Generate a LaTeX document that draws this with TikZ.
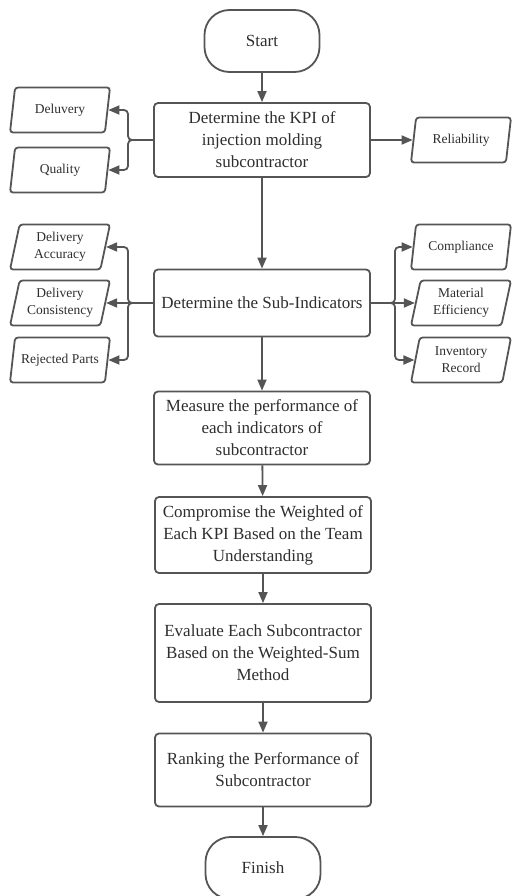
\documentclass[tikz,border=0pt]{standalone}
\usepackage{fontspec}
\setmainfont{Liberation Serif}
\usetikzlibrary{shapes.geometric,arrows.meta}
\definecolor{linegray}{HTML}{555555}
\definecolor{textgray}{HTML}{2E2E2E}
\begin{document}
\begin{tikzpicture}[x=1pt,y=-1pt,
	line width=1.8pt,
	every node/.style={text=textgray},
	box/.style={draw=linegray,rounded corners=4pt,minimum width=216pt,align=center,
		font=\fontsize{17}{22}\selectfont},
	term/.style={draw=linegray,rounded corners=25pt,minimum width=115pt,minimum height=62pt,
		font=\fontsize{17}{22}\selectfont},
	para/.style={draw=linegray,trapezium,trapezium left angle=75,trapezium right angle=105,
		trapezium stretches body,rounded corners=3pt,minimum width=100pt,minimum height=45pt,
		align=center,inner xsep=1pt,font=\fontsize{13.5}{17}\selectfont},
	arr/.style={draw=linegray,-{Triangle[length=11pt,width=9pt]}},
	split/.style={arr,rounded corners=4pt}]
	\useasboundingbox (0,0) rectangle (511,896);
	% main column
	\node[term] (start) at (262,41) {Start};
	\node[box,minimum height=74pt] (kpi) at (262,140) {Determine the KPI of\\injection molding\\subcontractor};
	\node[box,minimum height=67pt] (sub) at (262,303) {Determine the Sub-Indicators};
	\node[box,minimum height=73pt] (meas) at (262,428) {Measure the performance of\\each indicators of\\subcontractor};
	\node[box,minimum height=76pt] (compr) at (263,535) {Compromise the Weighted of\\Each KPI Based on the Team\\Understanding};
	\node[box,minimum height=98pt] (eval) at (263,653) {Evaluate Each Subcontractor\\Based on the Weighted-Sum\\Method};
	\node[box,minimum height=73pt] (rank) at (263,770) {Ranking the Performance of\\Subcontractor};
	\node[term] (finish) at (263,868) {Finish};
	% KPI
	\node[para] (deluvery) at (60,110) {Deluvery};
	\node[para] (quality) at (60,170) {Quality};
	\node[para] (reliab) at (461,140) {Reliability};
	% sub-indicators
	\node[para] (dacc) at (60,247) {Delivery\\Accuracy};
	\node[para] (dcons) at (60,303) {Delivery\\Consistency};
	\node[para] (reject) at (60,360) {Rejected Parts};
	\node[para] (compl) at (461,247) {Compliance};
	\node[para] (mater) at (461,303) {Material\\Efficiency};
	\node[para] (inven) at (461,360) {Inventory\\Record};
	\coordinate (kpil) at (128,140);
	\coordinate (subl) at (128,303);
	\coordinate (subr) at (395,303);
	% connectors
	\draw[arr] (start) -- (kpi);
	\draw[arr] (kpi) -- (sub);
	\draw[arr] (sub) -- (meas);
	\draw[arr] (meas) -- (compr);
	\draw[arr] (compr) -- (eval);
	\draw[arr] (eval) -- (rank);
	\draw[arr] (rank) -- (finish);
	\draw[arr] (kpi) -- (reliab);
	\draw[split] (kpi.west) -- (kpil) |- (deluvery.east);
	\draw[split] (kpi.west) -- (kpil) |- (quality.east);
	\draw[split] (sub.west) -- (subl) |- (dacc.east);
	\draw[arr] (sub.west) -- (dcons.east);
	\draw[split] (sub.west) -- (subl) |- (reject.east);
	\draw[split] (sub.east) -- (subr) |- (compl.west);
	\draw[arr] (sub.east) -- (mater.west);
	\draw[split] (sub.east) -- (subr) |- (inven.west);
\end{tikzpicture}
\end{document}
